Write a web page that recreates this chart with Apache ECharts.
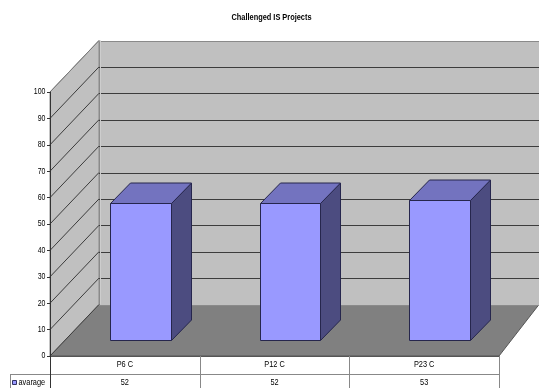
<!DOCTYPE html>
<html>
<head>
<meta charset="utf-8">
<script src="https://cdn.jsdelivr.net/npm/echarts@6/dist/echarts.min.js"></script>
<style>
  html, body { margin: 0; padding: 0; background: #fff; }
  #chart { width: 539px; height: 388px; }
</style>
</head>
<body>
<div id="chart"></div>
<script>
// data
const chartTitle = 'Challenged IS Projects'
const seriesName = 'avarage'
const categories = ['P6 C', 'P12 C', 'P23 C']
const avarage = [52, 52, 53]
const yTicks = [0, 10, 20, 30, 40, 50, 60, 70, 80, 90, 100]

// 3d look: how far the back wall sits from the front plane (px)
const DEPTH_DX = 49
const DEPTH_DY = 51.5
const DEPTH_DX_RIGHT = 40
// bars sit a bit behind the front edge
const BAR_DX = 15.5
const BAR_DY = 15.7
const BAR_DEPTH_X = 20
const BAR_DEPTH_Y = 20.5
const BAR_WIDTH = 0.405
const TABLE_BOTTOM = 388
const TABLE_ROW = 373.5

// no Arial Narrow here, so squeeze Liberation Sans (same metrics as Arial)
const FONT = "'Liberation Sans', Arial, sans-serif"
const NARROW = 0.82
const px = (v) => Math.round(v) + 0.5

const narrowText = (text, x, y, opts = {}) => ({
  type: 'text',
  x: x,
  y: y,
  scaleX: NARROW,
  style: {
    text: text,
    x: 0,
    y: 0,
    align: opts.align || 'center',
    verticalAlign: 'middle',
    fill: '#000',
    font: (opts.bold ? 'bold ' : '') + (opts.size || 9) + 'px ' + FONT,
  },
})

const chart = echarts.init(document.getElementById('chart'))

const renderWalls = (params, api) => {
  const cs = params.coordSys
  const x0 = cs.x
  const x1 = cs.x + cs.width
  const yb = cs.y + cs.height
  const yt = cs.y
  const bx0 = x0 + DEPTH_DX
  const children = []

  // floor
  children.push({
    type: 'polygon',
    shape: { points: [[x0, yb], [x1, yb], [x1 + DEPTH_DX_RIGHT, yb - DEPTH_DY], [bx0, yb - DEPTH_DY]] },
    style: { fill: '#808080', stroke: '#555', lineWidth: 1 },
  })
  // back wall
  children.push({
    type: 'rect',
    shape: { x: px(bx0), y: px(yt - DEPTH_DY), width: 560 - bx0, height: cs.height },
    style: { fill: '#c0c0c0', stroke: '#8a8a8a', lineWidth: 1 },
  })
  // left wall
  children.push({
    type: 'polygon',
    shape: { points: [[x0, yb], [x0, yt], [bx0, yt - DEPTH_DY], [bx0, yb - DEPTH_DY]] },
    style: { fill: '#c0c0c0', stroke: '#8a8a8a', lineWidth: 1 },
  })
  // grid lines on both walls + tick labels
  yTicks.forEach((v) => {
    const y = api.coord([0, v])[1]
    if (v > 0 && v < 100) {
      children.push({
        type: 'line',
        shape: { x1: bx0, y1: px(y - DEPTH_DY), x2: 560, y2: px(y - DEPTH_DY) },
        style: { stroke: '#3c3c3c', lineWidth: 1 },
      })
    }
    children.push({
      type: 'line',
      shape: { x1: x0, y1: y, x2: bx0, y2: y - DEPTH_DY },
      style: { stroke: v === 100 ? '#7a7a7a' : '#3c3c3c', lineWidth: 1 },
    })
    children.push(narrowText(String(v), x0 - 4.5, y, { align: 'right', size: 8.5 }))
  })
  // corner between the two walls
  children.push({
    type: 'line',
    shape: { x1: px(bx0) + 1, y1: yt - DEPTH_DY, x2: px(bx0) + 1, y2: yb - DEPTH_DY },
    style: { stroke: '#cdcdcd', lineWidth: 1 },
  })

  // data table lines
  children.push({
    type: 'line',
    shape: { x1: x0, y1: px(yb), x2: x1, y2: px(yb) },
    style: { stroke: '#555', lineWidth: 1 },
  })
  children.push({
    type: 'line',
    shape: { x1: 10, y1: px(TABLE_ROW), x2: x1, y2: px(TABLE_ROW) },
    style: { stroke: '#888', lineWidth: 1 },
  })
  children.push({
    type: 'line',
    shape: { x1: 10.5, y1: px(TABLE_ROW), x2: 10.5, y2: TABLE_BOTTOM },
    style: { stroke: '#888', lineWidth: 1 },
  })
  children.push({
    type: 'line',
    shape: { x1: px(x0), y1: yb, x2: px(x0), y2: TABLE_BOTTOM },
    style: { stroke: '#333', lineWidth: 1 },
  })
  // legend key in the table
  children.push({
    type: 'rect',
    shape: { x: 12.5, y: 380.5, width: 4, height: 4 },
    style: { fill: '#9999ff', stroke: '#333366', lineWidth: 1 },
  })
  children.push(narrowText(seriesName, 18.5, 383, { align: 'left' }))
  return { type: 'group', children }
}

const renderBar = (params, api) => {
  const base = api.coord([api.value(0), 0])
  const top = api.coord([api.value(0), api.value(1)])
  const band = api.size([1, 0])[0]
  const w = band * BAR_WIDTH
  const cx = base[0] + BAR_DX
  const l = px(cx - w / 2)
  const r = px(cx + w / 2)
  const fb = px(base[1] - BAR_DY)
  const ft = px(top[1] - BAR_DY)
  const edge = { stroke: '#26264d', lineWidth: 1 }
  return {
    type: 'group',
    children: [
      {
        type: 'polygon',
        shape: { points: [[r, ft], [r + BAR_DEPTH_X, ft - BAR_DEPTH_Y], [r + BAR_DEPTH_X, fb - BAR_DEPTH_Y], [r, fb]] },
        style: Object.assign({ fill: '#4c4c80' }, edge),
      },
      {
        type: 'polygon',
        shape: { points: [[l, ft], [r, ft], [r + BAR_DEPTH_X, ft - BAR_DEPTH_Y], [l + BAR_DEPTH_X, ft - BAR_DEPTH_Y]] },
        style: Object.assign({ fill: '#7373bf' }, edge),
      },
      {
        type: 'rect',
        shape: { x: l, y: ft, width: r - l, height: fb - ft },
        style: Object.assign({ fill: '#9999ff' }, edge),
      },
    ],
  }
}

const renderTableCell = (params, api) => {
  const i = api.value(0)
  const c = api.coord([i, 0])
  const band = api.size([1, 0])[0]
  const xr = px(c[0] + band / 2)
  return {
    type: 'group',
    children: [
      {
        type: 'line',
        shape: { x1: xr, y1: c[1], x2: xr, y2: TABLE_BOTTOM },
        style: { stroke: '#888', lineWidth: 1 },
      },
      narrowText(categories[i], c[0], 365),
      narrowText(String(api.value(1)), c[0], 383),
    ],
  }
}

const option = {
  animation: false,
  backgroundColor: '#fff',
  graphic: [
    {
      type: 'text',
      x: 271.5,
      y: 17.5,
      scaleX: NARROW,
      style: {
        text: chartTitle,
        x: 0,
        y: 0,
        align: 'center',
        verticalAlign: 'middle',
        fill: '#000',
        font: 'bold 9px ' + FONT,
      },
    },
  ],
  grid: { left: 50, right: 40, top: 92, bottom: 32 },
  xAxis: {
    type: 'category',
    data: categories,
    axisLine: { show: false },
    axisTick: { show: false },
    axisLabel: { show: false },
    splitLine: { show: false },
  },
  yAxis: {
    type: 'value',
    min: 0,
    max: 100,
    interval: 10,
    z: 10,
    axisLine: { show: true, lineStyle: { color: '#333', width: 1 } },
    axisTick: { show: true, length: 3, lineStyle: { color: '#333' } },
    axisLabel: { show: false },
    splitLine: { show: false },
  },
  series: [
    {
      name: 'walls',
      type: 'custom',
      silent: true,
      clip: false,
      z: 1,
      renderItem: renderWalls,
      data: [[0, 0]],
    },
    {
      name: seriesName,
      type: 'custom',
      clip: false,
      z: 3,
      itemStyle: { color: '#9999ff' },
      renderItem: renderBar,
      data: avarage.map((v, i) => [i, v]),
    },
    {
      name: 'table',
      type: 'custom',
      silent: true,
      clip: false,
      z: 2,
      renderItem: renderTableCell,
      data: avarage.map((v, i) => [i, v]),
    },
  ],
}

chart.setOption(option)
</script>
</body>
</html>
